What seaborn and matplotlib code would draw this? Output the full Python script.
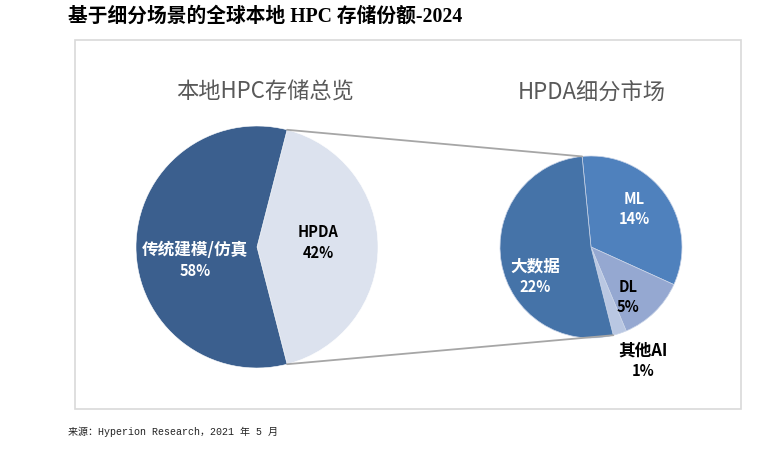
import numpy as np
import matplotlib
matplotlib.use("Agg")
import matplotlib.pyplot as plt
import seaborn as sns

# data
main_labels = ["HPDA", "传统建模/仿真"]
main_values = [42, 58]
sub_labels = ["ML", "DL", "其他AI", "大数据"]
sub_values = [14, 5, 1, 22]

main_colors = ["#DCE2EE", "#3B5F8E"]
sub_colors = ["#4F81BD", "#95A8D1", "#B9C7E2", "#4573A8"]

sns.set_theme(style="white")
plt.rcParams['font.family'] = ['Noto Sans CJK SC', 'DejaVu Sans']

W, H = 783, 456
fig = plt.figure(figsize=(7.83, 4.56), dpi=100)
ax = fig.add_axes([0, 0, 1, 1])

# pixel layout (y measured from top)
c1 = (257, H - 248)
r1 = 121
c2 = (591, H - 248)
r2 = 91

# left pie: HPDA slice centered on the right side
start1 = main_values[0] / sum(main_values) * 180
ax.pie(main_values, colors=main_colors, center=c1, radius=r1,
       startangle=start1, counterclock=False,
       wedgeprops=dict(edgecolor="white", linewidth=0.4))

# right pie
start2 = 95.6
ax.pie(sub_values, colors=sub_colors, center=c2, radius=r2,
       startangle=start2, counterclock=False,
       wedgeprops=dict(edgecolor="#C9D4E8", linewidth=0.5))

# connector lines
a_top = np.deg2rad(start1)
a_bot = np.deg2rad(-start1)
b_top = np.deg2rad(start2)
b_bot = np.deg2rad(start2 - 360 * sum(sub_values[:3]) / sum(sub_values))
for a, b in [(a_top, b_top), (a_bot, b_bot)]:
    ax.plot([c1[0] + r1 * np.cos(a), c2[0] + r2 * np.cos(b)],
            [c1[1] + r1 * np.sin(a), c2[1] + r2 * np.sin(b)],
            color="#A6A6A6", lw=1.3, solid_capstyle="round")

# frame
ax.add_patch(plt.Rectangle((75, H - 410), 741 - 75, 410 - 40.5,
                           fill=False, edgecolor="#D9D9D9", lw=1.2))

# slice labels: name line and percent line
labels = main_labels + sub_labels
values = main_values + sub_values
label_pos = {"HPDA": (318, 232), "传统建模/仿真": (195, 250),
             "ML": (634, 199), "DL": (628, 287), "其他AI": (643, 351),
             "大数据": (535, 266)}
label_col = {"HPDA": "black", "传统建模/仿真": "white", "ML": "white",
             "DL": "black", "其他AI": "black", "大数据": "white"}
for name, v in zip(labels, values):
    x, y = label_pos[name]
    cjk = any(ord(ch) > 0x2E80 for ch in name)
    ax.text(x, H - y, name, ha="center", va="center",
            fontsize=12 if cjk else 10.5, fontweight="bold",
            color=label_col[name])
    ax.text(x, H - y - 20.5, f"{v}%", ha="center", va="center",
            fontsize=10.5, fontweight="bold", color=label_col[name])

# pie titles
ax.text(265, H - 92, "本地HPC存储总览", ha="center", va="center",
        fontsize=16, color="#595959")
ax.text(592, H - 92, "HPDA细分市场", ha="center", va="center",
        fontsize=16, color="#595959")

# page title and source
ax.text(68, H - 17, "基于细分场景的全球本地 HPC 存储份额-2024", ha="left",
        va="center", fontsize=14.2, fontweight="bold", color="black",
        family=['Liberation Serif', 'Noto Sans CJK SC'])
ax.text(68, H - 432, "来源：Hyperion Research，2021 年 5 月", ha="left",
        va="center", fontsize=7.2, color="#222222",
        family=['Liberation Mono', 'Noto Sans CJK SC'])

ax.set_xlim(0, W)
ax.set_ylim(0, H)
ax.set_aspect("equal")
ax.axis("off")

fig.savefig("out.png", dpi=100)
